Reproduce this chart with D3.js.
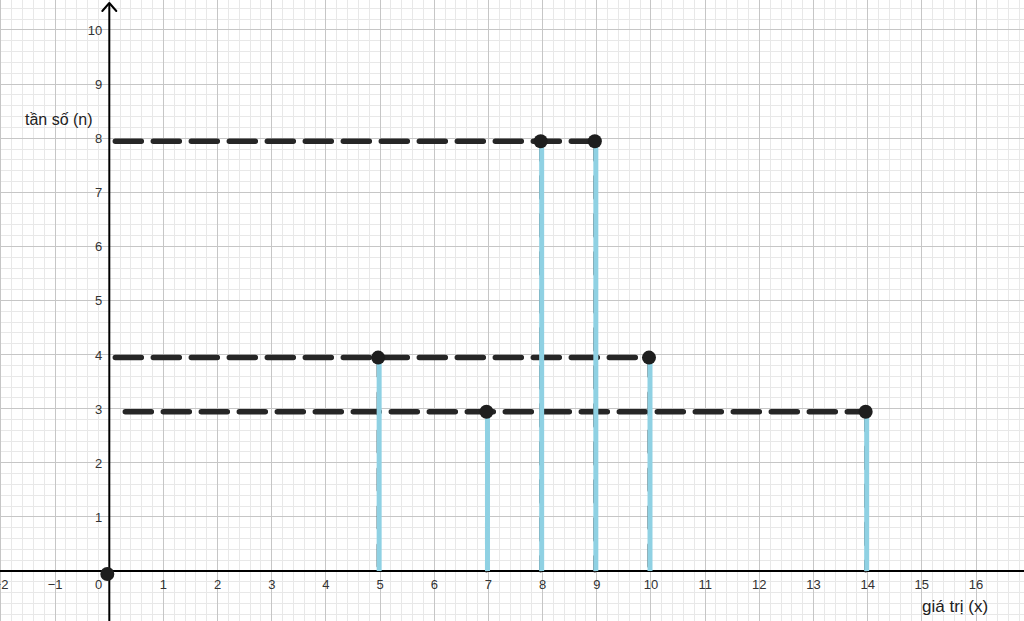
<!DOCTYPE html>
<html>
<head>
<meta charset="utf-8">
<script src="https://cdn.jsdelivr.net/npm/d3@7"></script>
<style>
html,body{margin:0;padding:0;background:#fff;overflow:hidden;}
svg{display:block;font-family:"Liberation Sans",Arial,sans-serif;}
</style>
</head>
<body>
<svg id="chart" width="1024" height="621"></svg>
<script>
// ---- data ----
const xValues = [0, 5, 7, 8, 9, 10, 14];        // giá trị (x)
const frequencies = [0, 4, 3, 8, 8, 4, 3];       // tần số (n)
const xTickLabels = [-2, -1, 0, 1, 2, 3, 4, 5, 6, 7, 8, 9, 10, 11, 12, 13, 14, 15, 16];
const yTickLabels = [1, 2, 3, 4, 5, 6, 7, 8, 9, 10];
const xAxisTitle = "giá trị (x)";
const yAxisTitle = "tần số (n)";

const W = 1024, H = 621;
const svg = d3.select("#chart");

const x = d3.scaleLinear().domain([-2.018, 16.886]).range([0, W]);
const y = d3.scaleLinear().domain([-0.924, 10.554]).range([H, 0]);

// ---- grid ----
const grid = svg.append("g");
const minorX = d3.range(-2.0, 17.0001, 0.2).map(v => +v.toFixed(1));
const minorY = d3.range(-1.0, 10.6, 0.2).map(v => +v.toFixed(1));
grid.selectAll(".mx").data(minorX.filter(v => Math.abs(v - Math.round(v)) > 1e-6)).enter()
  .append("line").attr("x1", d => x(d)).attr("x2", d => x(d)).attr("y1", 0).attr("y2", H)
  .attr("stroke", "#e8e8e8").attr("stroke-width", 1).attr("shape-rendering", "crispEdges");
grid.selectAll(".my").data(minorY.filter(v => Math.abs(v - Math.round(v)) > 1e-6)).enter()
  .append("line").attr("y1", d => y(d)).attr("y2", d => y(d)).attr("x1", 0).attr("x2", W)
  .attr("stroke", "#e8e8e8").attr("stroke-width", 1).attr("shape-rendering", "crispEdges");
grid.selectAll(".Mx").data(d3.range(-2, 17)).enter()
  .append("line").attr("x1", d => x(d)).attr("x2", d => x(d)).attr("y1", 0).attr("y2", H)
  .attr("stroke", "#c6c6c6").attr("stroke-width", 1).attr("shape-rendering", "crispEdges");
grid.selectAll(".My").data(d3.range(-1, 11)).enter()
  .append("line").attr("y1", d => y(d)).attr("y2", d => y(d)).attr("x1", 0).attr("x2", W)
  .attr("stroke", "#c6c6c6").attr("stroke-width", 1).attr("shape-rendering", "crispEdges");

// ---- axes ----
const axes = svg.append("g");
axes.append("line").attr("x1", 0).attr("x2", W).attr("y1", y(0)).attr("y2", y(0))
  .attr("stroke", "#000").attr("stroke-width", 2);
axes.append("line").attr("x1", x(0)).attr("x2", x(0)).attr("y1", 3).attr("y2", H)
  .attr("stroke", "#000").attr("stroke-width", 2);
axes.append("path")
  .attr("d", `M${x(0) - 7},${11} L${x(0)},${3} L${x(0) + 7},${11}`)
  .attr("fill", "none").attr("stroke", "#000").attr("stroke-width", 2)
  .attr("stroke-linecap", "round").attr("stroke-linejoin", "round");

// tick labels
const fmt = v => v < 0 ? "\u2212" + Math.abs(v) : String(v);
axes.selectAll(".xl").data(xTickLabels).enter().append("text")
  .attr("x", d => d === 0 ? x(0) - 7 : x(d))
  .attr("y", y(0) + 18)
  .attr("text-anchor", d => d === 0 ? "end" : "middle")
  .attr("font-size", 13).attr("fill", "#333")
  .text(fmt);
axes.selectAll(".yl").data(yTickLabels).enter().append("text")
  .attr("x", x(0) - 7)
  .attr("y", d => y(d) + 5)
  .attr("text-anchor", "end")
  .attr("font-size", 13).attr("fill", "#333")
  .text(fmt);

// axis titles
svg.append("text").attr("x", 25).attr("y", 125).attr("font-size", 16).attr("fill", "#222").text(yAxisTitle);
svg.append("text").attr("x", 922).attr("y", 612).attr("font-size", 17).attr("fill", "#222").text(xAxisTitle);

// ---- data marks ----
const pts = xValues.map((v, i) => ({x: v, n: frequencies[i]}));
const marks = svg.append("g");

// horizontal dashed guides: from y-axis to the farthest point of each frequency
const levels = d3.rollups(pts.filter(p => p.n > 0), g => d3.max(g, p => p.x), p => p.n);
marks.selectAll(".hg").data(levels).enter().append("line")
  .attr("x1", d => x(0) + (d[0] === 3 ? 16 : 6)).attr("x2", d => x(d[1]))
  .attr("y1", d => y(d[0]) + 3).attr("y2", d => y(d[0]) + 3)
  .attr("stroke", "#262626").attr("stroke-width", 5.5)
  .attr("stroke-dasharray", "26,12").attr("stroke-linecap", "round");

// vertical dashed guides (behind bars)
marks.selectAll(".vg").data(pts.filter(p => p.n > 0)).enter().append("line")
  .attr("x1", d => x(d.x) - 2).attr("x2", d => x(d.x) - 2)
  .attr("y1", d => y(d.n)).attr("y2", y(0))
  .attr("stroke", "#262626").attr("stroke-width", 3)
  .attr("stroke-dasharray", "22,16").attr("stroke-linecap", "round");

// blue bars
marks.selectAll(".bar").data(pts.filter(p => p.n > 0)).enter().append("line")
  .attr("x1", d => x(d.x) - 1).attr("x2", d => x(d.x) - 1)
  .attr("y1", d => y(d.n) + 6).attr("y2", y(0))
  .attr("stroke", "#8fd1e3").attr("stroke-width", 5);

// dots
marks.selectAll(".dot").data(pts).enter().append("circle")
  .attr("cx", d => x(d.x) - 2).attr("cy", d => y(d.n) + 3)
  .attr("r", 7).attr("fill", "#1e1e1e");
</script>
</body>
</html>
